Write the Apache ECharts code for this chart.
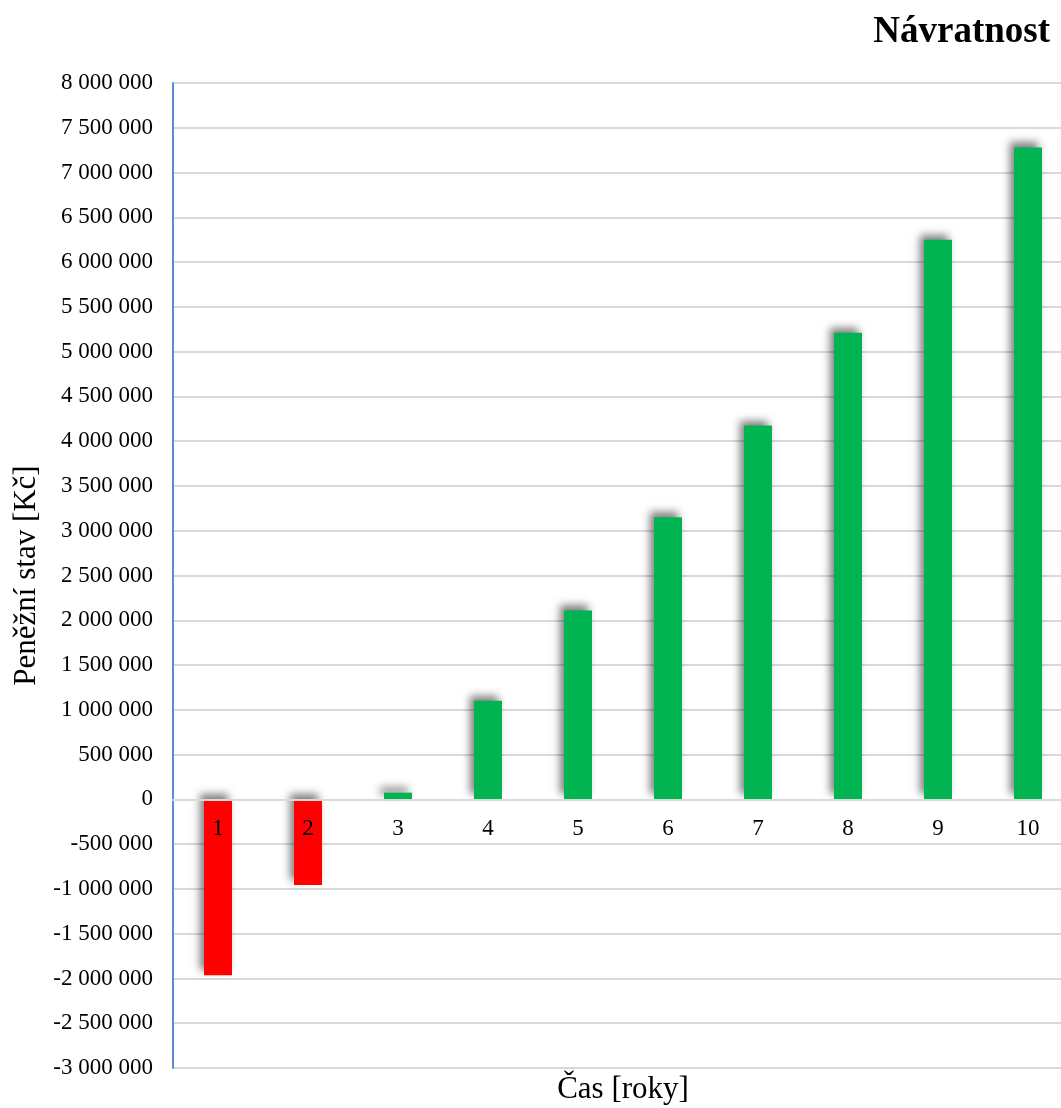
<!DOCTYPE html>
<html>
<head>
<meta charset="utf-8">
<script src="https://cdn.jsdelivr.net/npm/echarts@6/dist/echarts.min.js"></script>
<style>html,body{margin:0;padding:0;background:#fff;}#c{width:1061px;height:1108px;}</style>
</head>
<body>
<div id="c"></div>
<script>
const categories = ['1','2','3','4','5','6','7','8','9','10'];
const values = [-1965000, -955000, 75000, 1100000, 2110000, 3150000, 4175000, 5210000, 6250000, 7280000];
const titleText = 'Návratnost';
const yName = 'Peněžní stav [Kč]';
const xName = 'Čas [roky]';

const chart = echarts.init(document.getElementById('c'));
const font = '"Liberation Serif", "Times New Roman", serif';
const gridTop = 83, gridHeight = 985;
function fmt(v){
  const s = Math.abs(v).toString().replace(/\B(?=(\d{3})+(?!\d))/g, ' ');
  return (v < 0 ? '-' : '') + s;
}
chart.setOption({
  animation: false,
  title: {
    text: titleText, right: 6, top: 9,
    textStyle: {fontFamily: font, fontSize: 37, fontWeight: 'bold', color: '#000'}
  },
  graphic: [{
    type: 'text', x: 623, y: 1090,
    style: {text: xName, fontFamily: font, fontSize: 31, fill: '#000', textAlign: 'center', textVerticalAlign: 'middle'}
  }],
  grid: {left: 173, top: gridTop, width: 900, height: gridHeight, containLabel: false, outerBoundsMode: 'none'},
  xAxis: {
    type: 'category', data: categories, position: 'bottom', offset: 0,
    axisLine: {show: true, onZero: false, lineStyle: {color: '#d9d9d9', width: 2}},
    axisTick: {show: false},
    axisLabel: {fontFamily: font, fontSize: 23, color: '#000', margin: 18},
    z: 10
  },
  yAxis: {
    type: 'value', min: -3000000, max: 8000000, interval: 500000,
    name: yName, nameLocation: 'middle', nameGap: 128,
    nameTextStyle: {fontFamily: font, fontSize: 31, color: '#000'},
    axisLine: {show: true, lineStyle: {color: '#5b8bd0', width: 2}},
    axisTick: {show: false},
    axisLabel: {fontFamily: font, fontSize: 23, color: '#000', margin: 20, formatter: fmt},
    splitLine: {show: true, lineStyle: {color: '#d9d9d9', width: 2}}
  },
  series: [{
    type: 'bar',
    data: values.map(v => ({
      value: v,
      itemStyle: {
        color: v < 0 ? '#ff0000' : '#00b451',
        shadowColor: 'rgba(0,0,0,0.5)', shadowBlur: 8, shadowOffsetX: -4, shadowOffsetY: -5
      }
    })),
    barWidth: 28
  }]
});
// place the category axis on the zero line of the value axis
const zeroPx = chart.convertToPixel({yAxisIndex: 0}, 0);
chart.setOption({xAxis: {offset: -((gridTop + gridHeight) - zeroPx)}});
</script>
</body>
</html>
